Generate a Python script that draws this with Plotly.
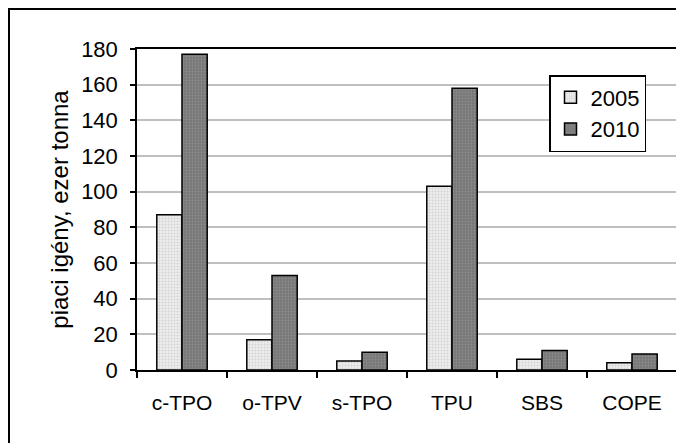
import plotly.graph_objects as go

categories = ["c-TPO", "o-TPV", "s-TPO", "TPU", "SBS", "COPE"]
values_2005 = [87, 17, 5, 103, 6, 4]
values_2010 = [177, 53, 10, 158, 11, 9]
series_names = ["2005", "2010"]
y_ticks = [0, 20, 40, 60, 80, 100, 120, 140, 160, 180]

FONT = "Liberation Sans, Arial, sans-serif"

fig = go.Figure()
fig.add_trace(go.Bar(
    x=categories, y=values_2005, name=series_names[0],
    marker=dict(color="#e8e8e8", line=dict(color="black", width=1.5),
                pattern=dict(shape=".", fgcolor="#b8b8b8", bgcolor="#ececec",
                             size=3, solidity=0.3)),
))
fig.add_trace(go.Bar(
    x=categories, y=values_2010, name=series_names[1],
    marker=dict(color="#808080", line=dict(color="black", width=1.5),
                pattern=dict(shape=".", fgcolor="#a0a0a0", bgcolor="#787878",
                             size=3, solidity=0.3)),
))

# page has an 8px body margin; positions below are in figure pixels
L, T = 129, 41
W, H = 684, 443
pw, ph = 540, 321
R = W - L - pw
B = H - T - ph

def px_to_paper_x(px):
    return (px - L) / pw

def px_to_paper_y(py):
    return (T + ph - py) / ph

fig.update_layout(
    width=W, height=H,
    margin=dict(l=L, r=R, t=T, b=B),
    paper_bgcolor="white", plot_bgcolor="white",
    barmode="group", bargap=0.44, bargroupgap=0,
    font=dict(family=FONT, color="black", size=22),
    showlegend=True,
    legend=dict(
        x=px_to_paper_x(541), y=px_to_paper_y(67),
        xanchor="left", yanchor="top",
        bgcolor="white", bordercolor="black", borderwidth=1.5,
        font=dict(size=22, family=FONT),
        tracegroupgap=0,
    ),
    xaxis=dict(
        showline=True, linecolor="black", linewidth=1.5, mirror=True,
        ticks="outside", ticklen=6, tickwidth=1.5, tickcolor="black",
        tickson="boundaries", ticklabelstandoff=13,
        tickfont=dict(size=21, family=FONT),
        showgrid=False,
    ),
    yaxis=dict(
        range=[0, 180], tickvals=y_ticks,
        showline=True, linecolor="black", linewidth=1.5, mirror=True,
        ticks="outside", ticklen=5, tickwidth=1.5, tickcolor="black",
        ticklabelstandoff=8,
        tickfont=dict(size=22, family=FONT),
        showgrid=True, gridcolor="#c0c0c0", gridwidth=1.5,
        zeroline=False,
        title=dict(text="piaci igény, ezer tonna", font=dict(size=24, family=FONT),
                   standoff=6),
    ),
    shapes=[dict(
        type="rect", xref="paper", yref="paper",
        x0=px_to_paper_x(1), x1=px_to_paper_x(700),
        y0=px_to_paper_y(460), y1=px_to_paper_y(1),
        line=dict(color="black", width=2), fillcolor="rgba(0,0,0,0)",
        layer="below",
    )],
)

fig.write_html("out.html")
